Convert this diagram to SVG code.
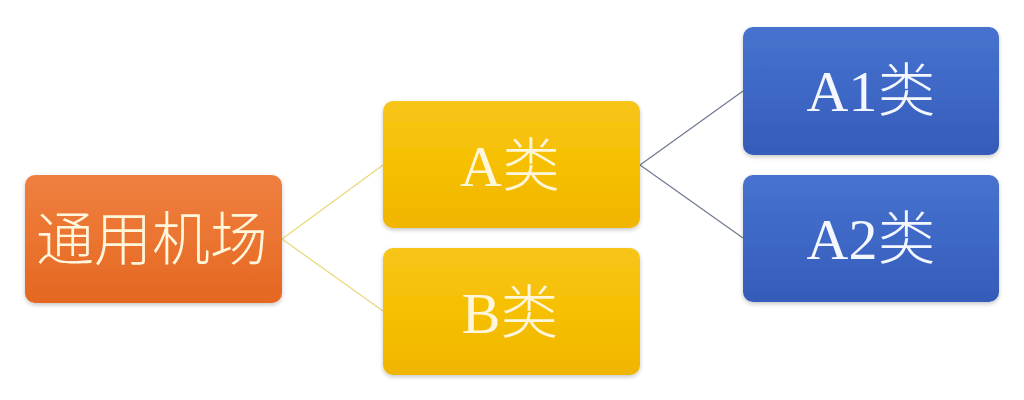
<svg xmlns="http://www.w3.org/2000/svg" width="1024" height="400" viewBox="0 0 1024 400">
<style>
.lbl{font-family:"Liberation Serif","Noto Sans CJK SC",serif;font-size:58px;text-anchor:middle;dominant-baseline:central;font-weight:300}
.warm{fill:#FFF6DC}
.cool{fill:#F4F7FF}
.box{filter:url(#sh)}
</style>
<defs>
<linearGradient id="gO" x1="0" y1="0" x2="0" y2="1"><stop offset="0" stop-color="#EE8040"/><stop offset="0.5" stop-color="#EB7430"/><stop offset="1" stop-color="#E46822"/></linearGradient>
<linearGradient id="gY" x1="0" y1="0" x2="0" y2="1"><stop offset="0" stop-color="#F7C51A"/><stop offset="0.5" stop-color="#F6C000"/><stop offset="1" stop-color="#F0B500"/></linearGradient>
<linearGradient id="gB" x1="0" y1="0" x2="0" y2="1"><stop offset="0" stop-color="#4772CD"/><stop offset="0.5" stop-color="#3E68C6"/><stop offset="1" stop-color="#355BB8"/></linearGradient>
<filter id="sh" x="-10%" y="-10%" width="120%" height="130%"><feDropShadow dx="0" dy="2" stdDeviation="2" flood-color="#000" flood-opacity="0.22"/></filter>
</defs>
<rect width="1024" height="400" fill="#FFFFFF"/>
<g id="connectors" fill="none" stroke-width="1.2">
<line x1="282" y1="239" x2="383" y2="165" stroke="#E8D87A"/>
<line x1="282" y1="239" x2="383" y2="311" stroke="#E8D87A"/>
<line x1="640" y1="165" x2="743" y2="91" stroke="#6E7890"/>
<line x1="640" y1="165" x2="743" y2="238" stroke="#6E7890"/>
</g>
<g id="node-root"><rect class="box" x="25" y="175" width="257" height="128" rx="10" fill="url(#gO)"/><text class="lbl warm" x="152" y="240" font-size="60">通用机场</text></g>
<g id="node-A"><rect class="box" x="383" y="101" width="257" height="127" rx="10" fill="url(#gY)"/><text class="lbl warm" x="510" y="166">A类</text></g>
<g id="node-B"><rect class="box" x="383" y="248" width="257" height="127" rx="10" fill="url(#gY)"/><text class="lbl warm" x="510" y="313">B类</text></g>
<g id="node-A1"><rect class="box" x="743" y="27" width="256" height="128" rx="10" fill="url(#gB)"/><text class="lbl cool" x="871" y="91">A1类</text></g>
<g id="node-A2"><rect class="box" x="743" y="175" width="256" height="127" rx="10" fill="url(#gB)"/><text class="lbl cool" x="871" y="239">A2类</text></g>
</svg>
